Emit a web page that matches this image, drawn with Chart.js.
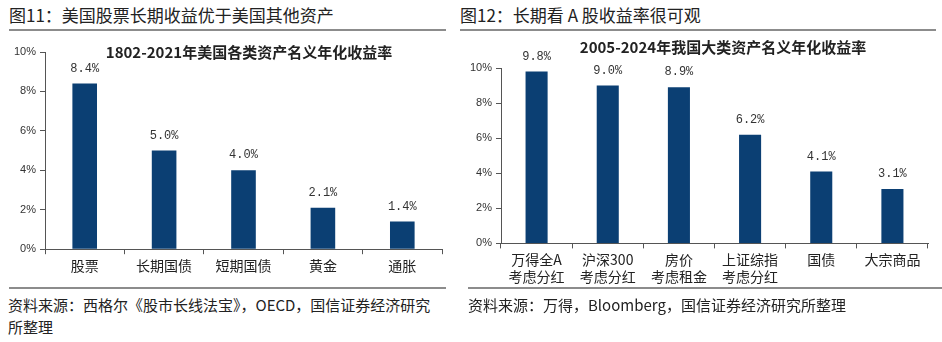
<html>
<head>
<meta charset="utf-8">
<style>
  body { margin:0; width:942px; height:342px; background:#fff; position:relative; overflow:hidden;
         font-family:"Noto Sans CJK SC", sans-serif; color:#222; }
  .hd { position:absolute; top:3px; font-size:17px; line-height:24px; white-space:nowrap; }
  .rule { position:absolute; height:2px; background:#8c8c8c; }
  .src { position:absolute; top:294px; font-size:15px; line-height:22px; }
  .box { position:absolute; top:38px; height:250px; }
</style>
</head>
<body>
<div class="hd" style="left:9px;">图11：美国股票长期收益优于美国其他资产</div>
<div class="hd" style="left:460px;">图12：长期看 A 股收益率很可观</div>
<div class="rule" style="left:9px; width:437px; top:29px;"></div>
<div class="rule" style="left:460px; width:476px; top:29px;"></div>

<div class="box" style="left:0px; width:450px;"><canvas id="c1"></canvas></div>
<div class="box" style="left:456px; width:482px;"><canvas id="c2"></canvas></div>

<div class="rule" style="left:9px; width:437px; top:287px;"></div>
<div class="rule" style="left:468px; width:474px; top:287px;"></div>
<div class="src" style="left:8px; width:445px;">资料来源：西格尔《股市长线法宝》，OECD，国信证券经济研究<br>所整理</div>
<div class="src" style="left:468px;">资料来源：万得，Bloomberg，国信证券经济研究所整理</div>

<script src="https://cdn.jsdelivr.net/npm/chart.js"></script>
<script>
  const usTitle = '1802-2021年美国各类资产名义年化收益率';
  const usLabels = ['股票', '长期国债', '短期国债', '黄金', '通胀'];
  const usValues = [8.4, 5.0, 4.0, 2.1, 1.4];

  const cnTitle = '2005-2024年我国大类资产名义年化收益率';
  const cnLabels = [['万得全A', '考虑分红'], ['沪深300', '考虑分红'], ['房价', '考虑租金'], ['上证综指', '考虑分红'], ['国债'], ['大宗商品']];
  const cnValues = [9.8, 9.0, 8.9, 6.2, 4.1, 3.1];

  const yTicks = [0, 2, 4, 6, 8, 10];

  // value labels above the bars + title drawn inside the plot
  const barText = {
    id: 'barText',
    afterDatasetsDraw(chart, args, opts) {
      const ctx = chart.ctx;
      ctx.save();
      ctx.fillStyle = '#333';
      ctx.font = '12px "Liberation Mono", monospace';
      ctx.textAlign = 'center';
      ctx.textBaseline = 'middle';
      const meta = chart.getDatasetMeta(0);
      meta.data.forEach((bar, i) => {
        const v = chart.data.datasets[0].data[i];
        ctx.fillText(v.toFixed(1) + '%', bar.x, bar.y - 15);
      });
      ctx.font = 'bold 15px "Noto Sans CJK SC", sans-serif';
      ctx.fillStyle = '#222';
      ctx.fillText(opts.text, opts.x, opts.y);
      ctx.restore();
    }
  };

  function makeChart(id, labels, values, title, titleX, titleY, padTop, padRight) {
    return new Chart(document.getElementById(id), {
      type: 'bar',
      data: {
        labels: labels,
        datasets: [{
          data: values,
          backgroundColor: '#0b3f73',
          barPercentage: 0.31,
          categoryPercentage: 1.0
        }]
      },
      options: {
        responsive: false,
        animation: false,
        layout: { padding: { top: padTop, right: padRight, bottom: 0, left: 0 } },
        plugins: {
          legend: { display: false },
          tooltip: { enabled: false },
          barText: { text: title, x: titleX, y: titleY }
        },
        scales: {
          x: {
            grid: { drawOnChartArea: false, tickLength: 5, color: '#555' },
            border: { color: '#555' },
            ticks: { color: '#222', padding: 3, font: { size: 14, family: '"Noto Sans CJK SC"', lineHeight: 1.2 }, maxRotation: 0 }
          },
          y: {
            min: 0, max: 10,
            afterFit(s) { s.width = 45; },
            afterBuildTicks(s) { s.ticks = yTicks.map(v => ({ value: v })); },
            grid: { drawOnChartArea: false, tickLength: 5, color: '#555' },
            border: { color: '#555' },
            ticks: { color: '#333', padding: 4, font: { size: 11, family: '"Liberation Sans"' }, callback: v => v + '%' }
          }
        }
      },
      plugins: [barText]
    });
  }

  const box1 = document.getElementById('c1');
  box1.width = 450; box1.height = 239;
  const box2 = document.getElementById('c2');
  box2.width = 482; box2.height = 250;

  makeChart('c1', usLabels, usValues, usTitle, 249, 14, 14, 8);
  makeChart('c2', cnLabels, cnValues, cnTitle, 267, 9, 30, 10);
</script>
</body>
</html>
